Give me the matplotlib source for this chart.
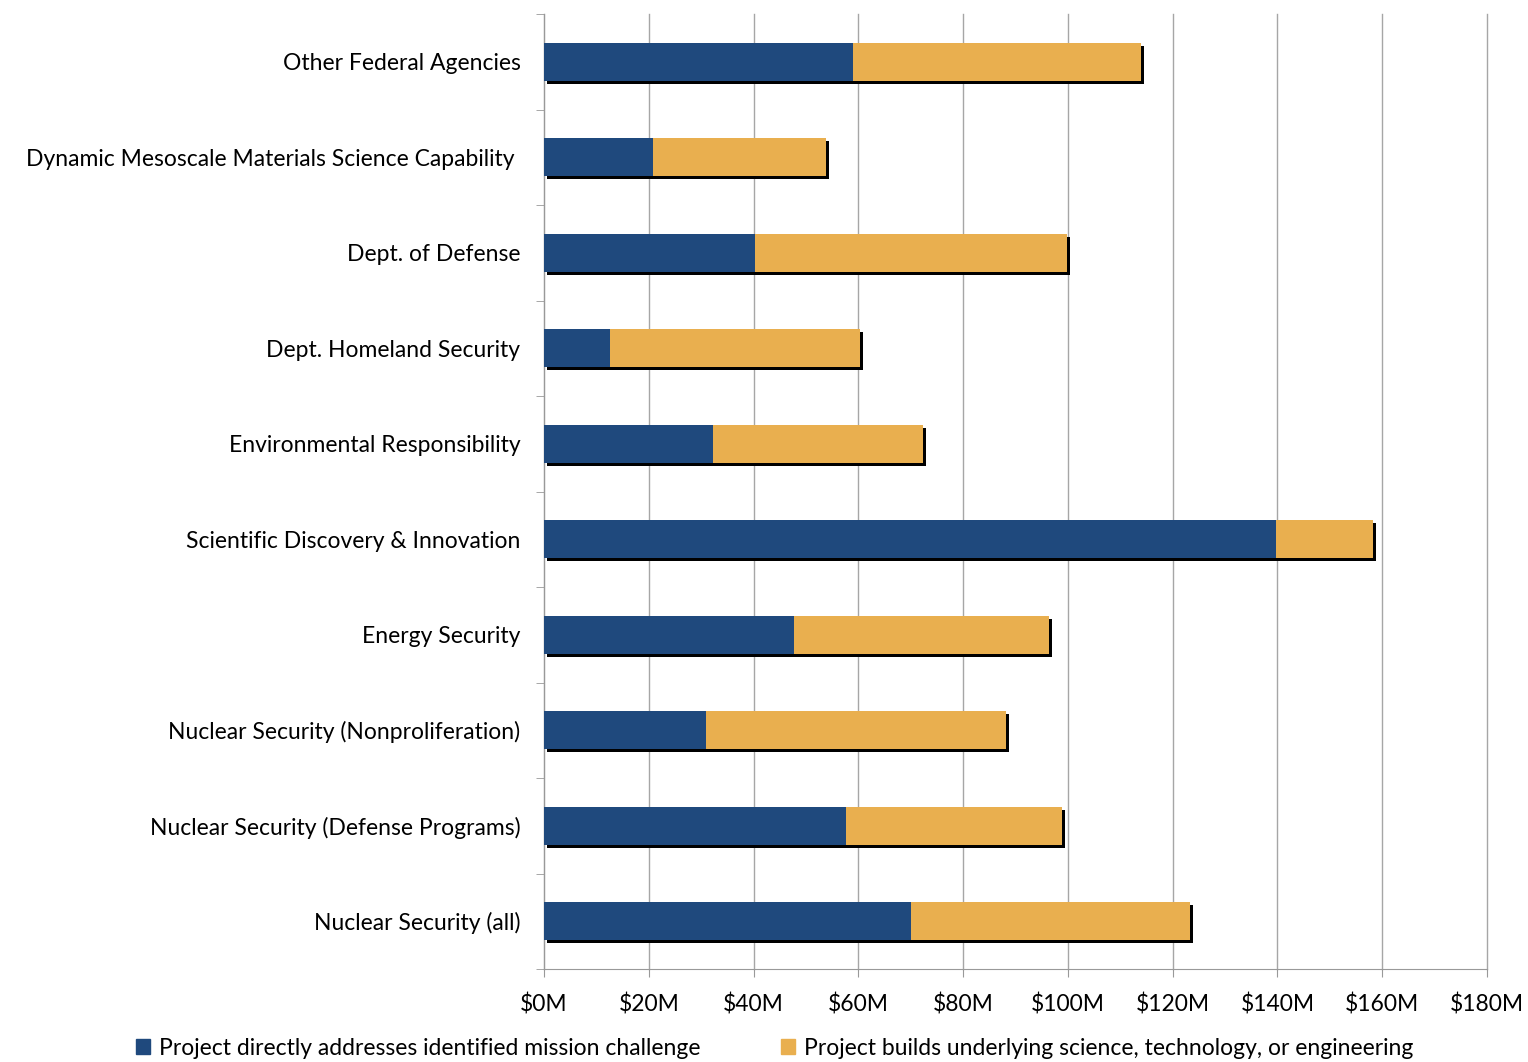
import numpy as np
import matplotlib.pyplot as plt
from matplotlib.patches import Patch
import matplotlib.patheffects as pe

plt.rcParams['font.family'] = ['Lato', 'DejaVu Sans']

categories = ["Nuclear Security (all)", "Nuclear Security (Defense Programs)",
              "Nuclear Security (Nonproliferation)", "Energy Security",
              "Scientific Discovery & Innovation", "Environmental Responsibility",
              "Dept. Homeland Security", "Dept. of Defense",
              "Dynamic Mesoscale Materials Science Capability ", "Other Federal Agencies"]
# millions of dollars
direct = [70.0, 57.6, 30.9, 47.7, 139.7, 32.3, 12.6, 40.3, 20.8, 59.0]
total = [123.3, 98.9, 88.2, 96.4, 158.2, 72.3, 60.3, 99.8, 53.8, 113.9]
underlying = [t - d for t, d in zip(total, direct)]

xticks = [0, 20, 40, 60, 80, 100, 120, 140, 160, 180]
xticklabels = ["$%dM" % v for v in xticks]

blue = "#1f497d"
gold = "#e9af4f"

fig = plt.figure(figsize=(15.28, 10.62), dpi=100)
ax = fig.add_axes([544 / 1528, 1 - 969 / 1062, (1487 - 544) / 1528, (969 - 14) / 1062])

shadow = [pe.SimplePatchShadow(offset=(2.2, -2.2), shadow_rgbFace="black", alpha=1.0), pe.Normal()]
pos = np.arange(len(categories))
ax.barh(pos, direct, height=0.4, color=blue, path_effects=shadow, zorder=3)
ax.barh(pos, underlying, left=direct, height=0.4, color=gold, path_effects=shadow, zorder=3)

ax.set_xlim(0, 180)
ax.set_ylim(-0.5, len(categories) - 0.5)
ax.set_xticks(xticks)
ax.set_xticklabels(xticklabels, fontsize=16.5)
ax.set_yticks(pos)
ax.set_yticklabels(categories, fontsize=16.5)
ax.tick_params(axis="y", which="major", length=0, pad=17)
ax.set_yticks(np.arange(-0.5, len(categories), 1), minor=True)
ax.tick_params(axis="y", which="minor", length=6, color="#999999")
ax.tick_params(axis="x", length=6, color="#999999", pad=12)

ax.grid(axis="x", color="#a6a6a6", linewidth=1, zorder=0)
for gl in ax.get_xgridlines():
    gl.set_clip_on(False)
ax.set_axisbelow(True)
for s in ["top", "right"]:
    ax.spines[s].set_visible(False)
for s in ["left", "bottom"]:
    ax.spines[s].set_color("#999999")

handles = [Patch(color=blue, label="Project directly addresses identified mission challenge"),
           Patch(color=gold, label="Project builds underlying science, technology, or engineering")]
fig.legend(handles=handles, loc="center", bbox_to_anchor=(0.507, 0.013), ncol=2, frameon=False,
           fontsize=16.5, handlelength=0.6, handleheight=0.6, handletextpad=0.4, columnspacing=3.5)

fig.savefig("out.png", dpi=100)
